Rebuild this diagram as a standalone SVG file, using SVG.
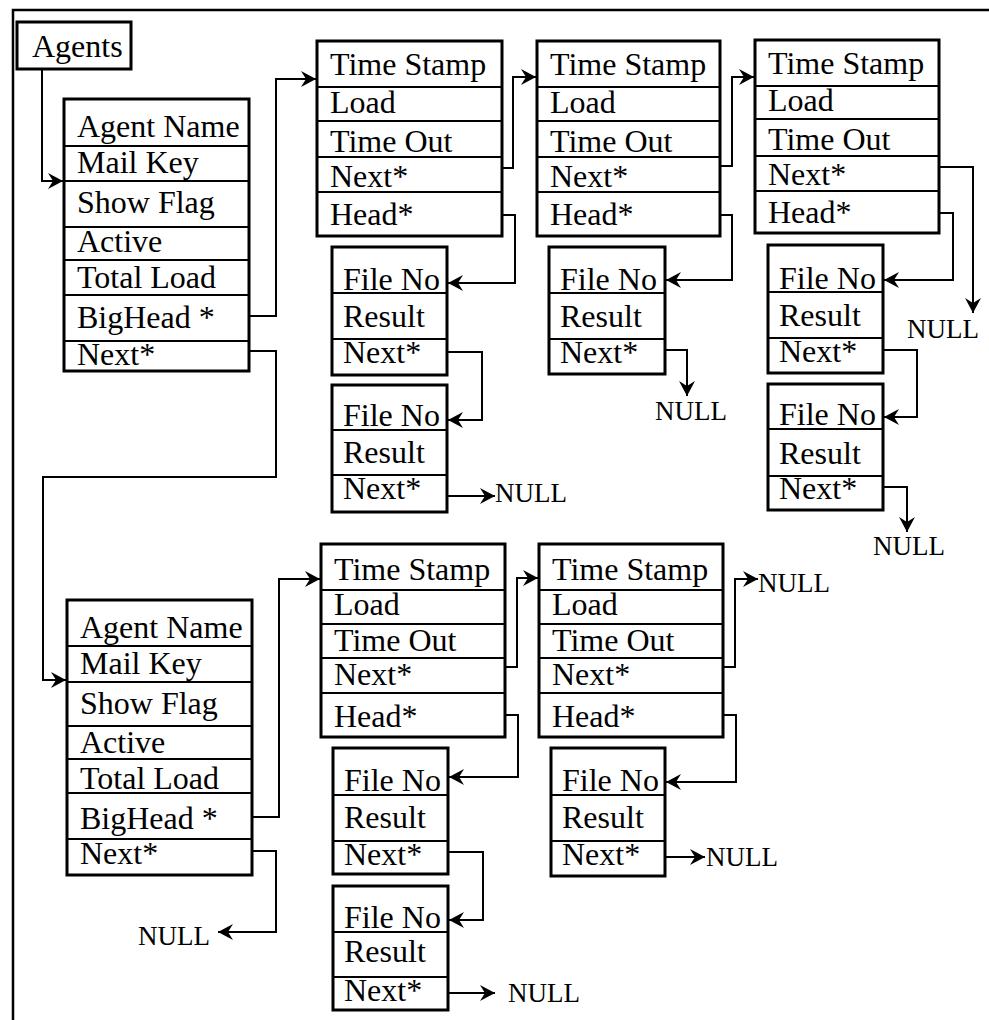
<svg xmlns="http://www.w3.org/2000/svg" width="989" height="1020" viewBox="0 0 989 1020">
<style>
.box{fill:#fff;stroke:#000;stroke-width:3}
.dv{stroke:#000;stroke-width:2}
.t{font-family:"Liberation Serif","Times New Roman",serif;font-size:32px;fill:#000}
.n{font-family:"Liberation Serif","Times New Roman",serif;font-size:27px;fill:#000}
.c{fill:none;stroke:#000;stroke-width:2;marker-end:url(#arr)}
.frame{fill:none;stroke:#000;stroke-width:2.5}
</style>
<defs>
<marker id="arr" viewBox="-1 -9 17 18" markerWidth="17" markerHeight="18" refX="15" refY="0" orient="auto" markerUnits="userSpaceOnUse">
<path d="M0,-8 L15,0 L0,8 L5,0 Z" fill="#000"/>
</marker>
</defs>
<rect width="989" height="1020" fill="#fff"/>
<path class="frame" d="M13,1020 V10 H989"/>

<g id="agents">
<rect class="box" x="17" y="22" width="114" height="47"/>
<text class="t" x="32" y="57">Agents</text>
</g>

<g id="agent1">
<rect class="box" x="64" y="99" width="185" height="272"/>
<path class="dv" d="M64,146H249M64,181H249M64,227H249M64,260H249M64,295H249M64,341H249"/>
<text class="t" x="77" y="137">Agent Name</text>
<text class="t" x="77" y="173">Mail Key</text>
<text class="t" x="77" y="213">Show Flag</text>
<text class="t" x="77" y="252">Active</text>
<text class="t" x="77" y="288">Total Load</text>
<text class="t" x="77" y="328">BigHead *</text>
<text class="t" x="77" y="365">Next*</text>
</g>

<g id="agent2">
<rect class="box" x="67" y="600" width="185" height="275"/>
<path class="dv" d="M67,646H252M67,682H252M67,726H252M67,759H252M67,793H252M67,839H252"/>
<text class="t" x="80" y="638">Agent Name</text>
<text class="t" x="80" y="674">Mail Key</text>
<text class="t" x="80" y="714">Show Flag</text>
<text class="t" x="80" y="753">Active</text>
<text class="t" x="80" y="789">Total Load</text>
<text class="t" x="80" y="829">BigHead *</text>
<text class="t" x="80" y="864">Next*</text>
</g>

<g id="ts1">
<rect class="box" x="317" y="41" width="185" height="195"/>
<path class="dv" d="M317,87H502M317,121H502M317,157H502M317,192H502"/>
<text class="t" x="330" y="75">Time Stamp</text>
<text class="t" x="330" y="113">Load</text>
<text class="t" x="330" y="152">Time Out</text>
<text class="t" x="330" y="187">Next*</text>
<text class="t" x="330" y="225">Head*</text>
</g>

<g id="ts2">
<rect class="box" x="537" y="41" width="183" height="195"/>
<path class="dv" d="M537,87H720M537,121H720M537,157H720M537,192H720"/>
<text class="t" x="550" y="75">Time Stamp</text>
<text class="t" x="550" y="113">Load</text>
<text class="t" x="550" y="152">Time Out</text>
<text class="t" x="550" y="187">Next*</text>
<text class="t" x="550" y="225">Head*</text>
</g>

<g id="ts3">
<rect class="box" x="755" y="40" width="184" height="193"/>
<path class="dv" d="M755,86H939M755,119H939M755,156H939M755,191H939"/>
<text class="t" x="768" y="74">Time Stamp</text>
<text class="t" x="768" y="111">Load</text>
<text class="t" x="768" y="150">Time Out</text>
<text class="t" x="768" y="185">Next*</text>
<text class="t" x="768" y="223">Head*</text>
</g>

<g id="ts4">
<rect class="box" x="321" y="544" width="184" height="193"/>
<path class="dv" d="M321,590H505M321,624H505M321,658H505M321,693H505"/>
<text class="t" x="334" y="580">Time Stamp</text>
<text class="t" x="334" y="615">Load</text>
<text class="t" x="334" y="651">Time Out</text>
<text class="t" x="334" y="685">Next*</text>
<text class="t" x="334" y="727">Head*</text>
</g>

<g id="ts5">
<rect class="box" x="539" y="544" width="184" height="193"/>
<path class="dv" d="M539,590H723M539,624H723M539,658H723M539,693H723"/>
<text class="t" x="552" y="580">Time Stamp</text>
<text class="t" x="552" y="615">Load</text>
<text class="t" x="552" y="651">Time Out</text>
<text class="t" x="552" y="685">Next*</text>
<text class="t" x="552" y="727">Head*</text>
</g>

<g id="f1a">
<rect class="box" x="332" y="247" width="115" height="128"/>
<path class="dv" d="M332,293H447M332,339H447"/>
<text class="t" x="343" y="290">File No</text>
<text class="t" x="343" y="327">Result</text>
<text class="t" x="343" y="363">Next*</text>
</g>

<g id="f1b">
<rect class="box" x="332" y="385" width="115" height="127"/>
<path class="dv" d="M332,430H447M332,475H447"/>
<text class="t" x="343" y="426">File No</text>
<text class="t" x="343" y="463">Result</text>
<text class="t" x="343" y="499">Next*</text>
</g>

<g id="f2a">
<rect class="box" x="549" y="247" width="116" height="127"/>
<path class="dv" d="M549,293H665M549,339H665"/>
<text class="t" x="560" y="290">File No</text>
<text class="t" x="560" y="327">Result</text>
<text class="t" x="560" y="363">Next*</text>
</g>

<g id="f3a">
<rect class="box" x="768" y="245" width="115" height="128"/>
<path class="dv" d="M768,292H883M768,338H883"/>
<text class="t" x="779" y="289">File No</text>
<text class="t" x="779" y="326">Result</text>
<text class="t" x="779" y="362">Next*</text>
</g>

<g id="f3b">
<rect class="box" x="768" y="384" width="115" height="126"/>
<path class="dv" d="M768,429H883M768,476H883"/>
<text class="t" x="779" y="425">File No</text>
<text class="t" x="779" y="464">Result</text>
<text class="t" x="779" y="499">Next*</text>
</g>

<g id="f4a">
<rect class="box" x="333" y="748" width="115" height="126"/>
<path class="dv" d="M333,795H448M333,841H448"/>
<text class="t" x="344" y="791">File No</text>
<text class="t" x="344" y="828">Result</text>
<text class="t" x="344" y="865">Next*</text>
</g>

<g id="f4b">
<rect class="box" x="333" y="886" width="115" height="124"/>
<path class="dv" d="M333,932H448M333,977H448"/>
<text class="t" x="344" y="928">File No</text>
<text class="t" x="344" y="962">Result</text>
<text class="t" x="344" y="1001">Next*</text>
</g>

<g id="f5a">
<rect class="box" x="551" y="748" width="114" height="128"/>
<path class="dv" d="M551,795H665M551,841H665"/>
<text class="t" x="562" y="791">File No</text>
<text class="t" x="562" y="828">Result</text>
<text class="t" x="562" y="865">Next*</text>
</g>

<g id="nulls">
<text class="n" x="495" y="502">NULL</text>
<text class="n" x="655" y="420">NULL</text>
<text class="n" x="907" y="338">NULL</text>
<text class="n" x="873" y="555">NULL</text>
<text class="n" x="138" y="945">NULL</text>
<text class="n" x="508" y="1002">NULL</text>
<text class="n" x="758" y="592">NULL</text>
<text class="n" x="706" y="866">NULL</text>
</g>

<g id="connectors">
<path class="c" d="M42,69 V181 H63"/>
<path class="c" d="M249,316 H276 V79 H316"/>
<path class="c" d="M249,351 H276 V477 H43 V680 H66"/>
<path class="c" d="M502,168 H513 V77 H536"/>
<path class="c" d="M720,166 H732 V77 H754"/>
<path class="c" d="M502,215 H515 V283 H448"/>
<path class="c" d="M447,352 H482 V420 H448"/>
<path class="c" d="M447,496 H495"/>
<path class="c" d="M720,215 H732 V280 H666"/>
<path class="c" d="M665,350 H687 V396"/>
<path class="c" d="M939,167 H973 V313"/>
<path class="c" d="M939,213 H953 V280 H884"/>
<path class="c" d="M883,350 H917 V417 H884"/>
<path class="c" d="M883,487 H907 V532"/>
<path class="c" d="M252,817 H279 V579 H320"/>
<path class="c" d="M252,851 H276 V932 H218"/>
<path class="c" d="M505,667 H517 V578 H538"/>
<path class="c" d="M505,715 H518 V777 H449"/>
<path class="c" d="M448,852 H483 V920 H449"/>
<path class="c" d="M448,993 H495"/>
<path class="c" d="M723,667 H735 V579 H758"/>
<path class="c" d="M723,715 H736 V782 H666"/>
<path class="c" d="M665,857 H705"/>
</g>
</svg>
